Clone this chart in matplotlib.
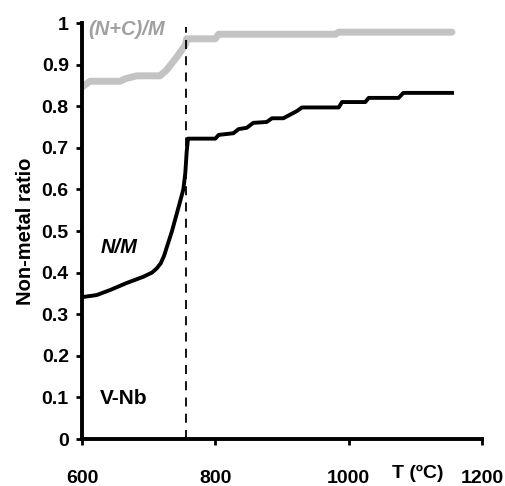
import matplotlib.pyplot as plt

plt.rcParams['font.family'] = ['Liberation Sans', 'DejaVu Sans']

# (N+C)/M, grey curve
t_nc = [600, 612, 657, 665, 682, 717, 727, 742, 755, 757, 760, 800, 805, 980, 985, 1155]
nc_m = [0.846, 0.86, 0.86, 0.866, 0.873, 0.873, 0.887, 0.918, 0.947, 0.962, 0.962, 0.962,
        0.973, 0.973, 0.978, 0.978]

# N/M, black curve
t_n = [600, 622, 642, 667, 692, 705, 712, 718, 723, 728, 735, 741, 747, 752, 755, 757, 759,
       800, 805, 827, 835, 847, 857, 877, 885, 902, 922, 930, 952, 985, 990, 1025, 1030,
       1075, 1082, 1155]
n_m = [0.341, 0.346, 0.358, 0.375, 0.39, 0.4, 0.41, 0.422, 0.44, 0.465, 0.5, 0.535, 0.57,
       0.6, 0.64, 0.69, 0.722, 0.722, 0.731, 0.735, 0.745, 0.748, 0.76, 0.762, 0.771,
       0.771, 0.788, 0.797, 0.797, 0.797, 0.81, 0.81, 0.82, 0.82, 0.832, 0.832]

t_trans = 756

x_ticks = [600, 800, 1000, 1200]
y_ticks = [0, 0.1, 0.2, 0.3, 0.4, 0.5, 0.6, 0.7, 0.8, 0.9, 1]
y_labels = ['0', '0.1', '0.2', '0.3', '0.4', '0.5', '0.6', '0.7', '0.8', '0.9', '1']


def main():
    fig = plt.figure(figsize=(5.06, 4.86), dpi=100)
    ax = fig.add_axes([82 / 506, 1 - 439 / 486, 400 / 506, 416 / 486])

    ax.plot(t_nc, nc_m, color='#c3c3c3', lw=5, solid_capstyle='round')
    ax.plot(t_n, n_m, color='black', lw=2.8)
    ax.plot([t_trans, t_trans], [0, 0.99], color='black', lw=1.3, ls=(0, (5, 4)))

    ax.set_xlim(600, 1200)
    ax.set_ylim(0, 1)
    ax.set_xticks(x_ticks)
    ax.set_yticks(y_ticks)
    ax.set_yticklabels(y_labels)

    for s in ['top', 'right']:
        ax.spines[s].set_visible(False)
    for s in ['left', 'bottom']:
        ax.spines[s].set_linewidth(2.8)

    ax.tick_params(axis='both', direction='out', width=2, length=4.5, labelsize=14)
    ax.tick_params(axis='x', pad=17.5)
    ax.tick_params(axis='y', pad=5)
    for lab in ax.get_xticklabels() + ax.get_yticklabels():
        lab.set_fontweight('bold')

    ax.set_ylabel('Non-metal ratio', fontsize=14.5, fontweight='bold', labelpad=5)
    ax.text(1103, -0.083, 'T (ºC)', fontsize=14, fontweight='bold',
            ha='center', va='center', clip_on=False)

    ax.text(610, 0.985, '(N+C)/M', fontsize=14.5, fontweight='bold', style='italic',
            color='#a0a0a0', ha='left', va='center')
    ax.text(628, 0.46, 'N/M', fontsize=14.5, fontweight='bold', style='italic',
            color='black', ha='left', va='center')
    ax.text(627, 0.098, 'V-Nb', fontsize=15, fontweight='bold',
            color='black', ha='left', va='center')

    fig.savefig('out.png', dpi=100)
    plt.close(fig)


if __name__ == '__main__':
    main()
